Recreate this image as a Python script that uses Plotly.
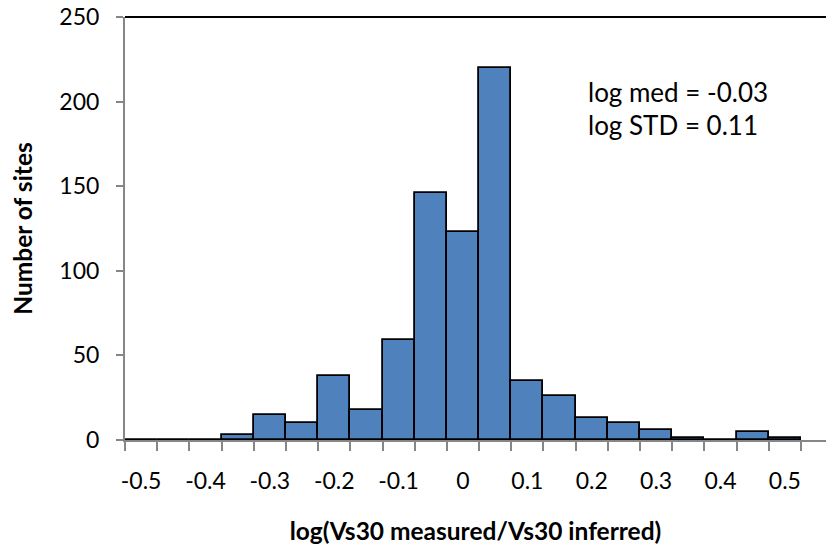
import plotly.graph_objects as go

# Histogram bin centres (log ratio) and counts
bin_centers = [-0.5, -0.45, -0.4, -0.35, -0.3, -0.25, -0.2, -0.15, -0.1, -0.05,
               0.0, 0.05, 0.1, 0.15, 0.2, 0.25, 0.3, 0.35, 0.4, 0.45, 0.5]
counts = [0, 0, 0, 3, 15, 10, 38, 18, 59, 146,
          123, 220, 35, 26, 13, 10, 6, 1, 0, 5, 1]
bin_width = 0.05

x_tick_vals = [-0.5, -0.4, -0.3, -0.2, -0.1, 0.0, 0.1, 0.2, 0.3, 0.4, 0.5]
x_tick_text = ["-0.5", "-0.4", "-0.3", "-0.2", "-0.1", "0", "0.1", "0.2", "0.3", "0.4", "0.5"]
y_tick_vals = [0, 50, 100, 150, 200, 250]

stats_lines = ["log med = -0.03", "log STD = 0.11"]

FONT = "Lato"
GRAY = "#868686"

fig = go.Figure()
fig.add_trace(go.Bar(
    x=bin_centers, y=counts, width=[bin_width] * len(bin_centers),
    marker=dict(color="#4F81BD", line=dict(color="black", width=1.8)),
    showlegend=False,
))

x_left = bin_centers[0] - bin_width / 2
x_right = x_left + (701 / 32.19) * bin_width

fig.update_layout(
    width=826, height=552,
    margin=dict(l=125, r=0, t=17, b=112, autoexpand=False),
    paper_bgcolor="white", plot_bgcolor="white",
    bargap=0,
    font=dict(family=FONT, color="black", size=23),
    xaxis=dict(
        range=[x_left, x_right], automargin=False,
        tickmode="array", tickvals=x_tick_vals, ticktext=x_tick_text,
        ticks="outside", ticklen=19, tickcolor="rgba(0,0,0,0)",
        minor=dict(tickmode="linear", tick0=x_left, dtick=bin_width,
                   ticks="outside", ticklen=9, tickwidth=2, tickcolor=GRAY),
        showline=True, linecolor=GRAY, linewidth=2,
        showgrid=False, zeroline=False,
        tickfont=dict(family=FONT, size=23),
        title=dict(text="<b>log(Vs30 measured/Vs30 inferred)</b>",
                   font=dict(family=FONT, size=24.5), standoff=30),
    ),
    yaxis=dict(
        range=[0, 250], tickmode="array", tickvals=y_tick_vals, automargin=False,
        ticks="outside", ticklen=7, tickwidth=2, tickcolor=GRAY,
        ticklabelstandoff=12,
        showline=True, linecolor=GRAY, linewidth=2,
        showgrid=False, zeroline=False,
        tickfont=dict(family=FONT, size=23),
        title=dict(text="<b>Number of sites</b>",
                   font=dict(family=FONT, size=24.5), standoff=20),
    ),
)

# top border line of plot area
fig.add_shape(type="line", xref="paper", yref="paper", x0=0, x1=1, y0=1, y1=1,
              line=dict(color="black", width=2))

fig.add_annotation(text=stats_lines[0], xref="paper", yref="paper",
                   x=(586 - 125) / 701, y=(440 - 92) / 423,
                   xanchor="left", yanchor="middle", showarrow=False,
                   font=dict(family=FONT, size=26))
fig.add_annotation(text=stats_lines[1], xref="paper", yref="paper",
                   x=(586 - 125) / 701, y=(440 - 125) / 423,
                   xanchor="left", yanchor="middle", showarrow=False,
                   font=dict(family=FONT, size=26))

# remove the default 8px page margin so the figure fills the window exactly
fig.write_html("out.html",
               config={"displayModeBar": False},
               post_script="document.body.style.margin='0';document.body.style.overflow='hidden';")
